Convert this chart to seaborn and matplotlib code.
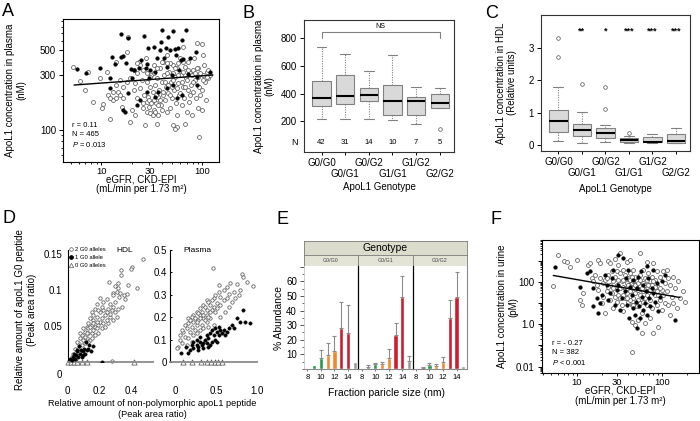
import numpy as np
import pandas as pd
import matplotlib
matplotlib.use('Agg')
import matplotlib.pyplot as plt
import seaborn as sns
from matplotlib.ticker import LogLocator, NullFormatter, FixedLocator, FixedFormatter, MultipleLocator
from matplotlib.lines import Line2D

# ---------------- data ----------------
# A: plasma apoL1 vs eGFR (open = other genotypes, filled = high-risk)
a_open = [(5.3,357),(6.2,268),(7.0,224),(8.4,175),(9.8,287),(10.4,168),(10.2,157),(7.5,320),(11.4,323),(11.8,202),
          (12.3,126),(13.9,390),(14.1,247),(13.2,183),(14.8,216),(15.4,273),(15.9,160),(16.6,189),(17.9,483),(18.6,645),
          (19.3,118),(20.1,150),(21,223),(21.4,256),(21.7,135),(22.5,313),(22.8,189),(23.4,395),(24.3,231),(25.2,273),
          (25.7,171),(26.2,155),(26.6,202),(27.2,111),(27.8,423),(28.2,264),(28.7,177),(29.3,195),(29.9,160),(30.5,239),
          (31,302),(30,183),(32.4,216),(33,370),(33.3,150),(34.1,247),(35,171),(35.4,282),(36.1,195),(36.8,135),
          (37.6,224),(38.2,346),(39.1,165),(39.7,264),(40.6,202),(41.2,395),(41.8,302),(42.8,183),(43.8,239),(44.5,145),
          (45.2,452),(46.2,209),(47.2,323),(48,155),(48.8,264),(49.8,189),(50.9,111),(51.7,370),(52.5,224),(53.7,292),
          (55,171),(55.8,346),(56.6,135),(58,256),(59.3,202),(60.3,423),(61,302),(62.5,165),(64,239),(64.9,535),
          (66,189),(67.5,357),(69,282),(70.2,145),(71.6,224),(72.7,395),(74.3,177),(75.5,313),(77,247),(78.3,135),
          (80,334),(81.5,216),(83.3,423),(85,273),(86.6,189),(87.9,571),(89.6,155),(91,346),(93.3,239),(94.6,202),
          (98.5,150),(100.8,302),(102,452),(104,370),(106,264),(108,183),(110,323),(114,282),(119,302),(92,87.5),
          (55.8,107),(53.7,103),(35.4,114),(67.5,114),(98.5,224),(98.5,560),
          (28.7,145),(30.5,140),(32.4,135),(34.1,145),(31,171),(33,183),(35,202),(36.8,165),(38.2,183),(39.7,150),
          (41.2,216),(42.8,264),(44.5,313),(46.2,247),(48,202),(49.8,239),(51.7,273),(53.7,346),(55.8,231),(58,302),
          (60.3,209),(62.5,264),(64.9,323),(67.5,239),(70.2,273),(72.7,334),(75.5,202),(78.3,302),(81.5,264),(85,313),
          (87.9,346),(91,292),(94.6,313),(102,273),(110,292),(114,334),(64.9,395),(58,383),(51.7,313),(48,383),
          (44.5,383),(39.7,395),(35.4,346),(33,313),(30.5,292),(28.2,313),(26.2,334),(24.3,370),(22.5,383),(21,334),
          (19.3,282),(17.9,264),(16.6,239),(15.4,202),(14.1,189),(13.2,216),(12.3,189)]
a_fill = [(5.75,341),(7.1,313),(9.8,350),(12.3,282),(12.9,431),(13.7,375),(15.6,689),(15.6,437),(16.6,446),(17.5,387),
          (18.6,632),(19.6,341),(20.1,287),(21.3,334),(23.7,346),(24.8,406),(26.8,662),(27.8,346),(28.7,375),(29.3,517),
          (30.5,334),(30,282),(33.6,535),(34.1,323),(35.4,423),(38.2,500),(39.1,590),(39.7,747),(42.2,428),(43.8,517),
          (45.2,357),(46.2,653),(48,500),(49.8,302),(51.7,733),(53.7,507),(55,452),(58,517),(59.3,334),(61.1,408),
          (62.5,611),(64.9,417),(69,747),(72.7,306),(75.5,428),(86.6,483),(87.9,247),(17.3,145),(16.6,150),(12.1,231),
          (18.6,209),(22.5,165),(24.3,183),(28.2,216),(34.1,195),(36.8,216),(44.5,231),(51.7,247),(62.5,202),(55.8,189),
          (87.9,292),(119,323)]
a_fit_egfr = [5.4, 127]
a_fit_conc = [247, 302]

# B: plasma apoL1 by genotype (box statistics)
genotypes = ['G0/G0', 'G0/G1', 'G0/G2', 'G1/G1', 'G1/G2', 'G2/G2']
b_whislo = [217, 217, 217, 209, 180, 294]
b_q1 = [308, 323, 347, 245, 245, 294]
b_med = [370, 385, 390, 347, 347, 334]
b_q3 = [491, 532, 440, 462, 375, 397]
b_whishi = [734, 684, 561, 676, 448, 440]
b_fliers = [[], [], [], [], [], [142]]
b_n = [42, 31, 14, 10, 7, 5]

# C: HDL apoL1 by genotype (box statistics)
c_whislo = [0.15, 0.09, 0.12, 0.07, 0.08, 0.06]
c_q1 = [0.41, 0.28, 0.24, 0.12, 0.11, 0.08]
c_med = [0.76, 0.46, 0.37, 0.17, 0.11, 0.15]
c_q3 = [1.10, 0.66, 0.54, 0.22, 0.27, 0.36]
c_whishi = [1.80, 1.03, 0.64, 0.28, 0.36, 0.52]
c_fliers = [[3.28, 2.72], [1.89], [1.79, 1.13], [0.37], [], []]
c_stars = ['', '**', '*', '***', '***', '***']

# D: G0 peptide vs non-polymorphic peptide
hdl_two = [(0.476,0.142),(0.406,0.132),(0.402,0.129),(0.339,0.128),(0.336,0.121),(0.265,0.111),(0.322,0.110),(0.385,0.107),
           (0.442,0.102),(0.301,0.106),(0.316,0.103),(0.286,0.096),(0.290,0.093),(0.311,0.097),(0.332,0.096),(0.328,0.090),
           (0.354,0.093),(0.364,0.088),(0.375,0.094),(0.301,0.083),(0.269,0.081),(0.248,0.088),(0.227,0.083),(0.206,0.089),
           (0.185,0.081),(0.258,0.074),(0.280,0.072),(0.301,0.070),(0.322,0.074),(0.343,0.077),(0.227,0.072),(0.206,0.070),
           (0.174,0.074),(0.153,0.070),(0.237,0.065),(0.269,0.063),(0.290,0.058),(0.258,0.054),(0.311,0.063),(0.216,0.061),
           (0.185,0.063),(0.164,0.058),(0.142,0.061),(0.132,0.054),(0.121,0.049),(0.153,0.051),(0.174,0.049),(0.195,0.051),
           (0.216,0.047),(0.237,0.049),(0.100,0.047),(0.111,0.042),(0.090,0.038),(0.132,0.040),(0.153,0.041),(0.174,0.038),
           (0.195,0.040),(0.079,0.033),(0.100,0.031),(0.121,0.033),(0.142,0.031),(0.069,0.026),(0.090,0.024),(0.111,0.026),
           (0.047,0.019),(0.069,0.018),(0.037,0.012),(0.026,0.008),(0.016,0.003),(0.058,0.010),(0.079,0.015),(0.280,0.002),
           (0.153,0.033),(0.164,0.045),(0.185,0.047),(0.206,0.056),(0.248,0.058),(0.269,0.067),(0.290,0.077),(0.216,0.077),
           (0.195,0.072),(0.164,0.065),(0.132,0.047),(0.142,0.049),(0.111,0.035),(0.121,0.040),(0.079,0.040),(0.058,0.028),
           (0.132,0.028),(0.185,0.056),(0.227,0.054),(0.248,0.070),(0.164,0.054)]
hdl_one = [(0.016,0.005),(0.033,0.008),(0.041,0.012),(0.054,0.010),(0.062,0.015),(0.069,0.008),(0.079,0.012),(0.083,0.017),
           (0.096,0.015),(0.104,0.019),(0.111,0.012),(0.121,0.017),(0.132,0.019),(0.147,0.015),(0.164,0.022),(0.117,0.028),
           (0.090,0.008),(0.047,0.005),(0.026,0.003),(0.075,0.022),(0.100,0.010),(0.138,0.024),(0.216,0.001),(0.058,0.017)]
hdl_zero_x = [0.0, 0.02, 0.04, 0.06, 0.09, 0.12, 0.42]
hdl_zero_y = [0, 0, 0, 0, 0, 0, 0]

pl_two = [(0.457,0.421),(0.815,0.392),(0.827,0.381),(0.951,0.341),(0.753,0.347),(0.671,0.351),(0.630,0.337),(0.527,0.344),
          (0.712,0.314),(0.588,0.322),(0.654,0.302),(0.547,0.292),(0.465,0.285),(0.383,0.277),(0.506,0.262),(0.424,0.255),
          (0.342,0.255),(0.300,0.240),(0.383,0.233),(0.444,0.233),(0.486,0.225),(0.259,0.225),(0.218,0.210),(0.300,0.210),
          (0.383,0.210),(0.342,0.196),(0.280,0.188),(0.218,0.181),(0.156,0.173),(0.198,0.159),(0.259,0.166),(0.321,0.166),
          (0.383,0.181),(0.424,0.196),(0.136,0.151),(0.095,0.136),(0.177,0.136),(0.239,0.144),(0.300,0.144),(0.115,0.114),
          (0.053,0.099),(0.074,0.084),(0.156,0.107),(0.218,0.122),(0.033,0.070),(0.012,0.062),(0.136,0.077),(0.198,0.092),
          (0.259,0.129),(0.342,0.151),(0.403,0.159),(0.465,0.166),(0.547,0.203),(0.609,0.225),(0.654,0.247),(0.691,0.270),
          (0.733,0.285),(0.774,0.300),(0.794,0.322),(0.877,0.359),(0.198,0.203),(0.239,0.196),(0.280,0.218),(0.321,0.225),
          (0.362,0.248),(0.403,0.270),(0.444,0.277),(0.486,0.300),(0.527,0.314),(0.156,0.196),(0.115,0.166),(0.074,0.144),
          (0.053,0.122),(0.177,0.188),(0.259,0.181),(0.300,0.196),(0.342,0.210),(0.424,0.225),(0.465,0.248),(0.506,0.240),
          (0.547,0.255),(0.588,0.277),(0.630,0.285),(0.403,0.203),(0.362,0.188)]
pl_one = [(0.062,0.040),(0.128,0.070),(0.156,0.040),(0.218,0.092),(0.259,0.077),(0.300,0.092),(0.280,0.070),(0.321,0.077),
          (0.342,0.062),(0.383,0.084),(0.362,0.099),(0.403,0.107),(0.424,0.077),(0.444,0.092),(0.465,0.122),(0.486,0.099),
          (0.506,0.136),(0.527,0.122),(0.547,0.144),(0.568,0.129),(0.588,0.144),(0.609,0.122),(0.630,0.136),(0.654,0.151),
          (0.691,0.166),(0.712,0.151),(0.753,0.196),(0.794,0.181),(0.856,0.181),(0.918,0.173),(0.827,0.233),(0.424,0.129),
          (0.383,0.122),(0.300,0.114),(0.259,0.099),(0.198,0.077),(0.218,0.062),(0.444,0.144),(0.486,0.151),(0.527,0.159),
          (0.342,0.084),(0.403,0.070),(0.506,0.092),(0.177,0.055),(0.280,0.055)]
pl_zero_x = [0.086, 0.198, 0.313, 0.383, 0.436, 0.485, 0.526, 0.568]
pl_zero_y = [0, 0, 0, 0, 0, 0, 0, 0]

# E: % abundance by HDL particle size and genotype
e_sizes = ['8', '9', '10', '11', '12', '13', '14', '15']
e_genotypes = ['G0/G0', 'G0/G1', 'G0/G2']
e_mean = {'G0/G0': [0.3, 2.5, 7.5, 9.8, 12.1, 28.1, 24.7, 4.6],
          'G0/G1': [0.3, 1.1, 3.4, 3.4, 7.5, 23.5, 49.1, 5.3],
          'G0/G2': [0.2, 0.9, 3.0, 2.1, 4.6, 34.9, 49.1, 1.8]}
e_err = {'G0/G0': [0, 0, 5.5, 8.0, 10.3, 17.6, 19.3, 0],
         'G0/G1': [0, 1.4, 0.5, 1.2, 6.2, 7.8, 14.4, 3.4],
         'G0/G2': [0, 0.3, 0.9, 1.1, 3.4, 12.1, 17.3, 0]}
e_colors = {'8': '#6e6e6e', '9': '#24994a', '10': '#24994a', '11': '#f0882c', '12': '#f0882c',
            '13': '#cb1d2e', '14': '#cb1d2e', '15': '#9c9c9c'}

# F: urine apoL1 vs eGFR
f_open = [(5.2,67),(6.1,1740),(7.0,980),(7.6,850),(8.4,474),(10,1090),(10.9,14),(11.5,8.2),(12,29),(13.7,634),
          (14.4,760),(15,149),(15.7,104),(16.4,214),(17.2,72),(18,1090),(18,42),(18.8,760),(18.8,149),(19.7,9.9),
          (20.6,86),(20.6,20),(21.5,124),(21.5,3.3),(22.5,35),(23.6,980),(23.6,214),(24.7,760),(24.7,14),(24.7,72),
          (25.8,307),(25.8,29),(27,104),(27,5.7),(28.3,1216),(28.3,178),(28.3,20),(29.6,307),(29.6,11.8),(30.9,634),
          (30.9,124),(30.9,24),(32.4,2240),(32.4,256),(32.4,50),(33.8,104),(33.8,8.2),(35.4,368),(35.4,60),(35.4,4.0),
          (37,214),(37,17),(38.7,850),(38.7,86),(38.7,29),(40.5,149),(40.5,11.8),(42.4,1090),(42.4,256),(42.4,35),
          (44.4,86),(44.4,8.2),(44.4,1.35),(46.4,368),(46.4,50),(46.4,17),(48.5,178),(48.5,29),(48.5,0.94),(50.8,104),
          (50.8,6.9),(53.1,42),(53.1,14),(53.1,1.6),(55.6,2240),(55.6,214),(55.6,24),(58.2,86),(58.2,3.3),(58.2,0.38),
          (60.8,368),(60.8,35),(63.6,149),(63.6,17),(63.6,1.1),(66.6,850),(66.6,60),(66.6,8.2),(69.7,256),(69.7,29),
          (72.9,104),(72.9,14),(72.9,1.9),(76.3,178),(76.3,5.7),(79.8,760),(79.8,50),(79.8,0.38),(83.5,124),(83.5,24),
          (87.4,307),(87.4,8.2),(91.4,60),(91.4,0.78),(95.6,178),(95.6,14),(100,42),(100,4.8),(104,307),(104,24),
          (109,86),(109,9.9),(114,368),(114,35),(120,149),(120,8.2),(125,72),(125,2.8),(131,20),(137,178),
          (137,9.9),(144,50),(150,5.7),(157,104),(164,17),(180,35),(188,11.8),(44.4,0.052),
          (35.4,124),(37,50),(38.7,50),(40.5,72),(42.4,124),(44.4,178),(46.4,104),(48.5,72),(50.8,50),(53.1,86),
          (55.6,124),(58.2,50),(60.8,86),(63.6,72),(66.6,124),(69.7,72),(72.9,42),(76.3,72),(79.8,104),(83.5,60),
          (87.4,35),(91.4,24),(95.6,50),(55.6,9.9),(60.8,11.8),(66.6,24),(46.4,8.2),(42.4,14),(38.7,17),(35.4,24),
          (32.4,17),(29.6,72),(27,50),(23.6,60),(22.5,149)]
f_fill = [(5.6,474),(10.9,60),(13.1,256),(14.4,307),(15.7,50),(15.7,6.9),(17.2,17),(18,3.3),(18.8,9.9),(19.7,24),
          (21.5,214),(22.5,72),(23.6,14),(24.7,29),(25.8,149),(27,368),(28.3,8.2),(29.6,42),(30.9,72),(30.9,1880),
          (32.4,4.8),(33.8,17),(35.4,1306),(37,35),(38,149),(38.7,8.2),(40.5,368),(41.7,1.9),(42.4,60),(44.4,24),
          (45.6,5.7),(46.4,124),(48.5,2.8),(49.9,11.8),(50.8,0.65),(51.8,50),(53.1,178),(54.6,6.9),(55.6,1.9),(57.1,307),
          (58.2,20),(59.8,72),(60.8,4.8),(63.6,9.9),(65.4,35),(66.6,528),(67.8,2.8),(69.7,149),(71.6,17),(72.9,6.9),
          (76.3,50),(78.3,368),(79.8,29),(83.5,11.8),(87.4,86),(91.4,4.0),(95.6,20),(100,104),(109,214),(144,1.6)]
f_fit_egfr = [5.3, 164]
f_fit_conc = [199, 18.2]

# ---------------- style ----------------
sns.set_style('ticks')
plt.rcParams['font.family'] = ['Liberation Sans', 'DejaVu Sans']
plt.rcParams.update({
    'font.size': 7, 'axes.linewidth': 0.8, 'axes.edgecolor': 'black',
    'xtick.color': 'black', 'ytick.color': 'black', 'text.color': 'black', 'axes.labelcolor': 'black',
    'xtick.labelsize': 7, 'ytick.labelsize': 7, 'axes.labelsize': 7,
    'xtick.major.size': 3, 'ytick.major.size': 3, 'xtick.minor.size': 1.8, 'ytick.minor.size': 1.8,
    'xtick.major.width': 0.7, 'ytick.major.width': 0.7, 'xtick.minor.width': 0.6, 'ytick.minor.width': 0.6,
    'xtick.major.pad': 2, 'ytick.major.pad': 2,
    'mathtext.fontset': 'custom', 'mathtext.rm': 'Liberation Sans', 'mathtext.it': 'Liberation Sans:italic',
})

W, H = 700, 421
fig = plt.figure(figsize=(7, 4.21), dpi=100)


def px_axes(x0, y0, x1, y1):
    return fig.add_axes([x0 / W, 1 - y1 / H, (x1 - x0) / W, (y1 - y0) / H])


def pts(pairs):
    arr = np.array(pairs, dtype=float)
    return arr[:, 0], arr[:, 1]


def open_dots(ax, x, y, s=8, marker='o'):
    sns.scatterplot(x=x, y=y, ax=ax, color='white', edgecolor='#5a5a5a', linewidth=0.55, s=s,
                    marker=marker, zorder=2, clip_on=False)


def full_dots(ax, x, y, s=7):
    sns.scatterplot(x=x, y=y, ax=ax, color='black', edgecolor='black', linewidth=0.3, s=s, zorder=3)


def log_scatter_axes(ax, xlim, ylim, yticks, ylabels, ysubs):
    ax.set_xscale('log')
    ax.set_yscale('log')
    ax.set_xlim(*xlim)
    ax.set_ylim(*ylim)
    ax.xaxis.set_major_locator(FixedLocator([10, 30, 100]))
    ax.xaxis.set_major_formatter(FixedFormatter(['10', '30', '100']))
    ax.xaxis.set_minor_locator(LogLocator(base=10, subs=np.arange(2, 10), numticks=20))
    ax.xaxis.set_minor_formatter(NullFormatter())
    ax.yaxis.set_major_locator(FixedLocator(yticks))
    ax.yaxis.set_major_formatter(FixedFormatter(ylabels))
    ax.yaxis.set_minor_locator(LogLocator(base=10, subs=ysubs, numticks=20))
    ax.yaxis.set_minor_formatter(NullFormatter())
    ax.tick_params(axis='x', which='major', length=2.5, pad=0.8, labelsize=6.8)
    ax.tick_params(axis='x', which='minor', length=1.6)
    for s in ax.spines.values():
        s.set_visible(True)
        s.set_linewidth(0.8)


# ---------------- A ----------------
axA = px_axes(63, 19, 219, 162)
ox, oy = pts(a_open)
fx, fy = pts(a_fill)
open_dots(axA, ox, oy)
full_dots(axA, fx, fy)
sns.lineplot(x=a_fit_egfr, y=a_fit_conc, ax=axA, color='black', lw=1.0)
log_scatter_axes(axA, (4.2, 146), (52.6, 931), [100, 300, 500], ['100', '300', '500'], np.arange(2, 10))
axA.text(0.055, 0.09, 'r = 0.11\nN = 465\n$P$ = 0.013', transform=axA.transAxes, fontsize=5.5,
         va='bottom', ha='left', linespacing=1.35)
axA.set_xlabel('eGFR, CKD-EPI\n(mL/min per 1.73 m²)', linespacing=1.0)
axA.set_ylabel('ApoL1 concentration in plasma\n(nM)', linespacing=1.15)
axA.xaxis.set_label_coords(0.5, -0.085)
axA.yaxis.set_label_coords(-0.235, 0.5)


# ---------------- B / C ----------------
def box_panel(ax, whislo, q1, med, q3, whishi, fliers, ylim, yticks):
    stats = [dict(whislo=a, q1=b, med=c, q3=d, whishi=e, fliers=f)
             for a, b, c, d, e, f in zip(whislo, q1, med, q3, whishi, fliers)]
    ax.bxp(stats, positions=range(1, 7), widths=0.78, patch_artist=True, capwidths=0.42,
           boxprops=dict(facecolor='#d9d9d9', edgecolor='#808080', linewidth=0.8),
           medianprops=dict(color='black', linewidth=1.5),
           whiskerprops=dict(color='#808080', linestyle=(0, (1, 1.2)), linewidth=0.8),
           capprops=dict(color='#808080', linewidth=0.8),
           flierprops=dict(marker='o', markersize=2.6, markerfacecolor='none',
                           markeredgecolor='#505050', markeredgewidth=0.5))
    ax.set_xlim(0.26, 6.6)
    ax.set_ylim(*ylim)
    ax.set_yticks(yticks)
    # staggered genotype labels: odd positions on the first row, even on the second
    ax.xaxis.set_major_locator(FixedLocator([1, 3, 5]))
    ax.xaxis.set_major_formatter(FixedFormatter(genotypes[0::2]))
    ax.xaxis.set_minor_locator(FixedLocator([2, 4, 6]))
    ax.xaxis.set_minor_formatter(FixedFormatter(genotypes[1::2]))
    ax.tick_params(axis='x', which='major', length=2.5, width=0.7, pad=2, labelsize=7)
    ax.tick_params(axis='x', which='minor', length=2.5, width=0.7, pad=10, labelsize=7)
    for s in ax.spines.values():
        s.set_visible(True)
        s.set_linewidth(0.8)
        s.set_color('#333333')
    ax.set_xlabel('ApoL1 Genotype')


axB = px_axes(304, 20, 454, 152)
box_panel(axB, b_whislo, b_q1, b_med, b_q3, b_whishi, b_fliers, (-20, 930), [200, 400, 600, 800])
for i, n in enumerate(b_n):
    axB.text(i + 1, 45, str(n), ha='center', va='center', fontsize=5.5)
axB.text(-0.06, 45, 'N', transform=axB.get_yaxis_transform(), ha='center', va='center', fontsize=6.5)
ns_y = 847
axB.plot([1, 1, 6, 6], [ns_y - 43, ns_y, ns_y, ns_y - 43], color='#808080', lw=0.8)
axB.text(3.5, ns_y + 10, 'NS', ha='center', va='bottom', fontsize=5)
axB.set_ylabel('ApoL1 concentration in plasma\n(nM)', linespacing=1.15)
axB.yaxis.set_label_coords(-0.195, 0.5)
axB.xaxis.set_label_coords(0.5, -0.23)

axC = px_axes(541, 15, 690, 151)
box_panel(axC, c_whislo, c_q1, c_med, c_q3, c_whishi, c_fliers, (-0.17, 4.0), [0, 1, 2, 3])
for i, st in enumerate(c_stars):
    axC.text(i + 1, 3.5, st, ha='center', va='center', fontsize=6.5, fontweight='bold')
axC.set_ylabel('ApoL1 concentration in HDL\n(Relative units)', linespacing=1.15)
axC.yaxis.set_label_coords(-0.16, 0.5)
axC.xaxis.set_label_coords(0.5, -0.24)

# ---------------- D ----------------
axH = px_axes(67.5, 250, 153, 362.3)
axP = px_axes(170, 250, 257, 362.3)
for ax in (axH, axP):
    for k in ('top', 'right'):
        ax.spines[k].set_visible(False)
    ax.spines['left'].set_linewidth(0.8)
    ax.spines['bottom'].set_color('#8a8a8a')
    ax.spines['bottom'].set_linewidth(1.3)

hx, hy = pts(hdl_two)
open_dots(axH, hx, hy, s=6)
hx, hy = pts(hdl_one)
full_dots(axH, hx, hy, s=6)
open_dots(axH, hdl_zero_x, hdl_zero_y, s=14, marker='^')
axH.set_xlim(0, 0.54)
axH.set_ylim(0, 0.155)
axH.set_xticks([0, 0.2, 0.4])
axH.set_xticklabels(['0', '0.2', '0.4'])
axH.set_yticks([0.05, 0.1, 0.15])
axH.set_yticklabels(['0.05', '0.1', '0.15'])
axH.tick_params(axis='x', length=0, pad=17)
axH.tick_params(axis='y', length=0, pad=4)
axH.text(-0.09, -0.11, '0', transform=axH.transAxes, ha='center', va='center', fontsize=7)
axH.text(0.67, 1.0, 'HDL', transform=axH.transAxes, ha='center', va='center', fontsize=6)
leg_handles = [Line2D([], [], ls='none', marker='o', ms=2.6, mfc='white', mec='#5a5a5a', mew=0.5),
               Line2D([], [], ls='none', marker='o', ms=2.4, mfc='black', mec='black'),
               Line2D([], [], ls='none', marker='^', ms=3.2, mfc='white', mec='#5a5a5a', mew=0.5)]
axH.legend(leg_handles, ['2 G0 alleles', '1 G0 allele', '0 G0 alleles'], loc='upper left',
           bbox_to_anchor=(0.0, 1.04), frameon=False, fontsize=4.2, handlelength=0.8,
           handletextpad=0.3, labelspacing=0.55, borderpad=0.2, borderaxespad=0)

px_, py_ = pts(pl_two)
open_dots(axP, px_, py_, s=6)
px_, py_ = pts(pl_one)
full_dots(axP, px_, py_, s=6)
open_dots(axP, pl_zero_x, pl_zero_y, s=14, marker='^')
axP.set_xlim(-0.07, 1.0)
axP.set_ylim(0, 0.5)
axP.set_xticks([0, 0.5, 1.0])
axP.set_xticklabels(['0', '0.5', '1.0'])
axP.set_yticks([0, 0.1, 0.2, 0.3, 0.4, 0.5])
axP.set_yticklabels(['0', '0.1', '0.2', '0.3', '0.4', '0.5'])
axP.tick_params(axis='x', length=0, pad=17)
axP.tick_params(axis='y', direction='in', length=1.5, pad=2)
axP.text(0.31, 1.0, 'Plasma', transform=axP.transAxes, ha='center', va='center', fontsize=6)

fig.text(26 / W, 1 - 310 / H, 'Relative amount of apoL1 G0 peptide\n(Peak area ratio)', rotation=90,
         ha='center', va='center', fontsize=7, linespacing=1.2)
fig.text(152 / W, 1 - 409 / H, 'Relative amount of non-polymorphic apoL1 peptide\n(Peak area ratio)',
         ha='center', va='center', fontsize=6.6, linespacing=1.2)

# ---------------- E ----------------
edges = [304, 358.2, 412.5, 466.7]
hdr = px_axes(304, 241.3, 466.7, 255.3)
hdr.set_facecolor('#dcdccd')
hdr.set_xticks([])
hdr.set_yticks([])
hdr.text(0.5, 0.5, 'Genotype', ha='center', va='center', fontsize=7.5, transform=hdr.transAxes)
for s in hdr.spines.values():
    s.set_color('#7a7a7a')
    s.set_linewidth(0.6)

for i, gt in enumerate(e_genotypes):
    st = px_axes(edges[i], 255.3, edges[i + 1], 266)
    st.set_facecolor('#e3e3d6')
    st.set_xticks([])
    st.set_yticks([])
    st.text(0.5, 0.5, gt, ha='center', va='center', fontsize=3.8, transform=st.transAxes, color='#444444')
    for s in st.spines.values():
        s.set_color('#7a7a7a')
        s.set_linewidth(0.6)

    ax = px_axes(edges[i], 266, edges[i + 1], 369)
    means = e_mean[gt]
    errs = np.array(e_err[gt])
    sns.barplot(x=e_sizes, y=means, hue=e_sizes, palette=e_colors, order=e_sizes, hue_order=e_sizes,
                legend=False, ax=ax, width=0.62, saturation=1)
    keep = errs > 0
    xs = np.arange(len(e_sizes))[keep]
    ax.errorbar(xs, np.array(means)[keep], yerr=[np.zeros(keep.sum()), errs[keep]], fmt='none',
                ecolor='#8c8c8c', elinewidth=0.8, capsize=1.6, capthick=0.8, zorder=4)
    ax.set_xlim(-0.5, 7.5)
    ax.set_ylim(0, 70.5)
    ax.set_xticks([0, 2, 4, 6])
    ax.set_xticklabels(['8', '10', '12', '14'], fontsize=5.5)
    ax.tick_params(axis='x', length=1.5, pad=2, color='#777777')
    ax.set_xlabel('')
    ax.set_ylabel('')
    ax.spines['top'].set_visible(False)
    ax.spines['bottom'].set_color('#8a8a8a')
    ax.spines['right'].set_color('#8a8a8a')
    ax.spines['right'].set_visible(i == 2)
    ax.spines['left'].set_color('black' if i > 0 else '#bbbbbb')
    ax.spines['left'].set_linewidth(0.9 if i > 0 else 0.5)
    if i == 0:
        ax.set_yticks([10, 20, 30, 40, 50, 60, 70])
        ax.set_yticklabels(['10', '20', '30', '40', '50', '60', ''])
        ax.yaxis.set_minor_locator(MultipleLocator(5))
        ax.tick_params(axis='y', which='both', color='#555555')
        ax.set_ylabel('% Abundance', fontsize=7.5)
        ax.yaxis.set_label_coords(-0.36, 0.5)
    else:
        ax.set_yticks([])

fig.text(386.7 / W, 1 - 392.7 / H, 'Fraction paricle size (nm)', ha='center', va='center', fontsize=7.5)

# ---------------- F ----------------
axF = px_axes(541.7, 240, 698.5, 373.3)
ox, oy = pts(f_open)
fx, fy = pts(f_fill)
open_dots(axF, ox, oy)
full_dots(axF, fx, fy)
sns.lineplot(x=f_fit_egfr, y=f_fit_conc, ax=axF, color='black', lw=1.0)
log_scatter_axes(axF, (3.87, 271), (0.0049, 9340), [0.01, 0.1, 1, 10, 100, 1000],
                 ['0.01', '', '1.0', '', '100', ''], np.arange(2, 10))
axF.text(0.064, 0.045, 'r = - 0.27\nN = 382\n$P$ < 0.001', transform=axF.transAxes, fontsize=5.5,
         va='bottom', ha='left', linespacing=1.35)
axF.set_xlabel('eGFR, CKD-EPI\n(mL/min per 1.73 m²)', linespacing=1.0)
axF.set_ylabel('ApoL1 concentration in urine\n(pM)', linespacing=1.15)
axF.xaxis.set_label_coords(0.5, -0.095)
axF.yaxis.set_label_coords(-0.15, 0.5)

# ---------------- panel letters ----------------
for lab, x, y in [('A', 2, 3), ('B', 243, 5), ('C', 485, 5), ('D', 2, 210), ('E', 277, 211), ('F', 491, 211)]:
    fig.text(x / W, 1 - y / H, lab, ha='left', va='top', fontsize=13)

fig.savefig('out.png', dpi=100)
